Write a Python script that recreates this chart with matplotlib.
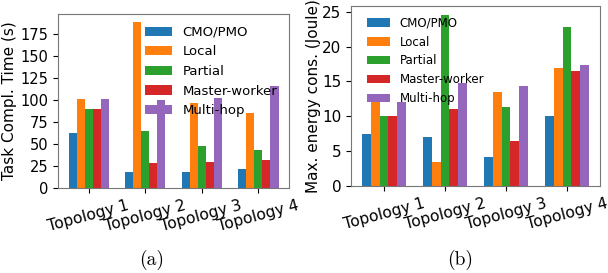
import numpy as np
import matplotlib
matplotlib.use("Agg")
import matplotlib.pyplot as plt

topologies = ["Topology 1", "Topology 2", "Topology 3", "Topology 4"]
methods = ["CMO/PMO", "Local", "Partial", "Master-worker", "Multi-hop"]
colors = ["#1f77b4", "#ff7f0e", "#2ca02c", "#d62728", "#9467bd"]

time_cmo = [62, 18, 18, 22]
time_local = [101, 188, 96, 85]
time_partial = [90, 65, 48, 43]
time_mw = [90, 28, 30, 32]
time_mh = [101, 100, 102, 116]

energy_cmo = [7.4, 7.0, 4.2, 10.0]
energy_local = [12.1, 3.5, 13.5, 16.9]
energy_partial = [10.0, 24.6, 11.3, 22.8]
energy_mw = [10.0, 11.0, 6.4, 16.5]
energy_mh = [12.1, 14.8, 14.3, 17.3]

time_ticks = [0, 25, 50, 75, 100, 125, 150, 175]
energy_ticks = [0, 5, 10, 15, 20, 25]

time_series = [time_cmo, time_local, time_partial, time_mw, time_mh]
energy_series = [energy_cmo, energy_local, energy_partial, energy_mw, energy_mh]

fig = plt.figure(figsize=(6.08, 2.73), dpi=100)
ax1 = fig.add_axes([58/608, 1-188/273, 231/608, 174/273])
ax2 = fig.add_axes([351/608, 1-186/273, 249/608, 180/273])

x = np.arange(len(topologies))
w = 0.143

def draw(ax, series, ylabel, legend_loc, legfs, yfs, lfs, anchor, lpad):
    for j, (vals, name, c) in enumerate(zip(series, methods, colors)):
        ax.bar(x + (j - 2) * w, vals, w, color=c, label=name)
    ax.set_xticks(x)
    ax.set_xticklabels(topologies, rotation=15, fontsize=11.2)
    ax.tick_params(axis="y", labelsize=yfs)
    ax.set_ylabel(ylabel, fontsize=lfs, labelpad=lpad)
    for s in ax.spines.values():
        s.set_color("#777777")
    ax.legend(loc=legend_loc, frameon=False, fontsize=legfs,
              bbox_to_anchor=anchor)

draw(ax1, time_series, "Task Compl. Time (s)", "upper right", 9.5, 10.5, 11, (1.0, 1.0), 2)
draw(ax2, energy_series, "Max. energy cons. (Joule)", "upper left", 8.5, 11, 11, (0.02, 1.0), 1)
ax1.set_yticks(time_ticks)
ax2.set_yticks(energy_ticks)

fig.text(152/608, 1-260/273, "(a)", fontsize=14, family="cmr10", ha="center", va="center")
fig.text(460/608, 1-260/273, "(b)", fontsize=14, family="cmr10", ha="center", va="center")

fig.savefig("out.png", dpi=100)
